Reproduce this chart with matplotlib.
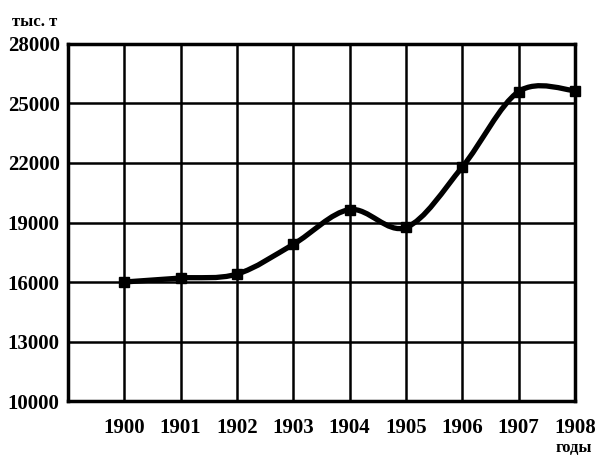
import matplotlib.pyplot as plt
from matplotlib.path import Path
from matplotlib.patches import PathPatch
import numpy as np

# данные с графика
years = [1900, 1901, 1902, 1903, 1904, 1905, 1906, 1907, 1908]
values = [16000, 16200, 16400, 17900, 19650, 18750, 21800, 25600, 25650]
y_ticks = [10000, 13000, 16000, 19000, 22000, 25000, 28000]

plt.rcParams['font.family'] = ['Liberation Serif', 'DejaVu Serif']
plt.rcParams['font.weight'] = 'bold'

fig = plt.figure(figsize=(6.01, 4.67), dpi=100)
ax = fig.add_axes([0.1131, 0.1413, 0.8436, 0.7645])

ax.set_xlim(1899, 1908)
ax.set_ylim(10000, 28000)
ax.set_xticks(years)
ax.set_yticks(y_ticks)
ax.set_xticklabels([str(y) for y in years], fontsize=15, fontweight='bold')
ax.set_yticklabels([str(v) for v in y_ticks], fontsize=15, fontweight='bold')
ax.tick_params(length=0, pad=6)
ax.tick_params(axis='x', pad=12)

ax.grid(True, color='black', linewidth=1.8)
ax.set_axisbelow(True)
for s in ax.spines.values():
    s.set_linewidth(2.5)

# сглаженная линия (Catmull-Rom -> кривые Безье)
pts = np.column_stack([years, values]).astype(float)
ext = np.vstack([pts[0], pts, pts[-1]])
verts = [tuple(pts[0])]
codes = [Path.MOVETO]
for i in range(1, len(ext) - 2):
    p0, p1, p2, p3 = ext[i - 1], ext[i], ext[i + 1], ext[i + 2]
    c1 = p1 + (p2 - p0) / 6
    c2 = p2 - (p3 - p1) / 6
    verts += [tuple(c1), tuple(c2), tuple(p2)]
    codes += [Path.CURVE4] * 3
ax.add_patch(PathPatch(Path(verts, codes), facecolor='none', edgecolor='black',
                       linewidth=3.8, capstyle='round', joinstyle='round', zorder=3))
ax.plot(years, values, linestyle='none', marker='s', markersize=7,
        color='black', clip_on=False, zorder=4)

fig.text(0.02, 0.952, 'тыс. т', fontsize=12, fontweight='bold', ha='left', va='center')
fig.text(0.985, 0.04, 'годы', fontsize=12, fontweight='bold', ha='right', va='center')

fig.savefig('out.png', dpi=100)
